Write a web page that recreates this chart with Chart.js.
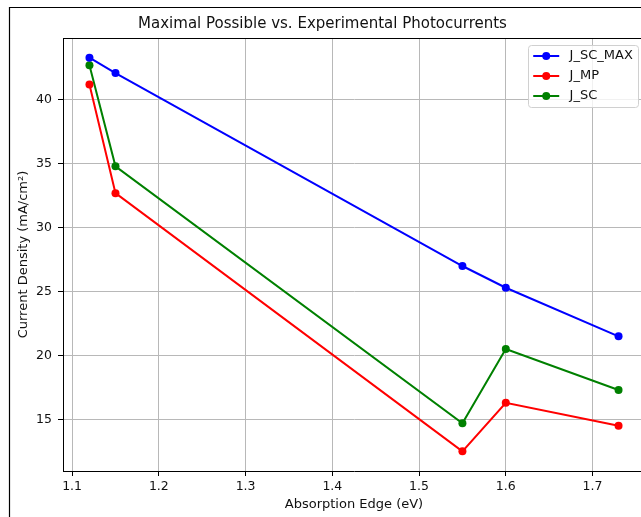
<!DOCTYPE html>
<html>
<head>
<meta charset="utf-8">
<script src="https://cdn.jsdelivr.net/npm/chart.js@4.4.1/dist/chart.umd.min.js"></script>
<style>
  html, body { margin: 0; padding: 0; background: #fff; overflow: hidden; }
  #wrap { width: 641px; height: 517px; overflow: hidden; }
  canvas { display: block; }
</style>
</head>
<body>
<div id="wrap"><canvas id="chart" width="660" height="517"></canvas></div>
<script>
// data
var absorptionEdge = [1.12, 1.15, 1.55, 1.60, 1.73];
var jScMax = [43.3, 42.1, 27.0, 25.3, 21.5];
var jMp = [41.2, 32.7, 12.5, 16.3, 14.5];
var jSc = [42.7, 34.8, 14.7, 20.5, 17.3];
var seriesNames = ['J_SC_MAX', 'J_MP', 'J_SC'];
var xTickValues = [1.1, 1.2, 1.3, 1.4, 1.5, 1.6, 1.7];
var yTickValues = [15, 20, 25, 30, 35, 40];

var FONT = "'DejaVu Sans', sans-serif";

function toPoints(ys){
	var pts = [];
	for(var i=0; i<absorptionEdge.length; i++){
		pts.push({x: absorptionEdge[i], y: ys[i]});
	}
	return pts;
}

// matplotlib style 5% margins
function paddedRange(values){
	var lo = Math.min.apply(null, values), hi = Math.max.apply(null, values);
	var m = (hi - lo) * 0.05;
	return {min: lo - m, max: hi + m};
}
var xRange = paddedRange(absorptionEdge);
var yRange = paddedRange(jScMax.concat(jMp, jSc));

function makeSet(label, ys, color){
	return {
		label: label,
		data: toPoints(ys),
		borderColor: color,
		backgroundColor: color,
		pointBackgroundColor: color,
		pointBorderColor: color,
		borderWidth: 2,
		pointRadius: 4,
		pointBorderWidth: 0,
		tension: 0,
		fill: false
	};
}

// frame, top/right spines and the legend box
var decorPlugin = {
	id: 'decor',
	afterDraw: function(chart){
		var ctx = chart.ctx, a = chart.chartArea;
		ctx.save();
		// outer frame of the figure
		ctx.strokeStyle = '#000';
		ctx.lineWidth = 1.2;
		ctx.beginPath();
		ctx.moveTo(9.5, 600);
		ctx.lineTo(9.5, 7.5);
		ctx.lineTo(700, 7.5);
		ctx.stroke();
		// top + right spines
		ctx.lineWidth = 1;
		ctx.beginPath();
		ctx.moveTo(a.left, Math.round(a.top) + 0.5);
		ctx.lineTo(a.right, Math.round(a.top) + 0.5);
		ctx.lineTo(a.right, a.bottom);
		ctx.stroke();

		// legend, upper right
		var fs = 13;
		ctx.font = fs + 'px ' + FONT;
		var textW = 0;
		chart.data.datasets.forEach(function(ds){
			textW = Math.max(textW, ctx.measureText(ds.label).width);
		});
		var pad = 0.4 * fs, handle = 2 * fs, gap = 0.8 * fs;
		var boxW = pad + handle + gap + textW + pad;
		var rowH = 20;
		var boxH = 11 * 2 + rowH * (chart.data.datasets.length - 1);
		var bx = a.right - 7 - boxW, by = a.top + 7;
		ctx.beginPath();
		ctx.roundRect(bx + 0.5, by + 0.5, boxW, boxH, 3);
		ctx.fillStyle = 'rgba(255,255,255,0.8)';
		ctx.fill();
		ctx.strokeStyle = '#d0d0d0';
		ctx.lineWidth = 1;
		ctx.stroke();
		chart.data.datasets.forEach(function(ds, i){
			var cy = by + 11 + i * rowH;
			var lx = bx + pad;
			ctx.strokeStyle = ds.borderColor;
			ctx.lineWidth = 2;
			ctx.beginPath();
			ctx.moveTo(lx, cy);
			ctx.lineTo(lx + handle, cy);
			ctx.stroke();
			ctx.fillStyle = ds.borderColor;
			ctx.beginPath();
			ctx.arc(lx + handle / 2, cy, 4, 0, Math.PI * 2);
			ctx.fill();
			ctx.fillStyle = '#111';
			ctx.textBaseline = 'middle';
			ctx.textAlign = 'left';
			ctx.fillText(ds.label, lx + handle + gap, cy);
		});
		ctx.restore();
	}
};

var ctx = document.getElementById('chart').getContext('2d');
var myChart = new Chart(ctx, {
	type: 'line',
	data: {
		datasets: [
			makeSet(seriesNames[0], jScMax, '#0000ff'),
			makeSet(seriesNames[1], jMp, '#ff0000'),
			makeSet(seriesNames[2], jSc, '#008000')
		]
	},
	options: {
		responsive: false,
		animation: false,
		devicePixelRatio: 1,
		layout: { padding: { left: 0, right: 15, top: 0, bottom: 0 } },
		plugins: {
			legend: { display: false },
			tooltip: { enabled: false },
			title: {
				display: true,
				text: 'Maximal Possible vs. Experimental Photocurrents',
				color: '#111',
				font: { family: FONT, size: 15, weight: 'normal', lineHeight: 1.2 },
				padding: { top: 15, bottom: 5 }
			}
		},
		scales: {
			x: {
				type: 'linear',
				min: xRange.min,
				max: xRange.max,
				afterBuildTicks: function(scale){
					scale.ticks = xTickValues.map(function(v){ return {value: v}; });
				},
				afterFit: function(scale){ scale.height = 46; },
				ticks: {
					autoSkip: false,
					maxRotation: 0,
					color: '#111',
					padding: 3.5,
					font: { family: FONT, size: 12.5 },
					callback: function(v){ return Number(v).toFixed(1); }
				},
				grid: { color: '#b8b8b8', lineWidth: 1, tickColor: '#000', tickLength: 5 },
				border: { color: '#000', width: 1 },
				title: {
					display: true,
					text: 'Absorption Edge (eV)',
					color: '#111',
					font: { family: FONT, size: 13, lineHeight: 1.2 },
					padding: { top: 0, bottom: 4.2 }
				}
			},
			y: {
				type: 'linear',
				min: yRange.min,
				max: yRange.max,
				afterBuildTicks: function(scale){
					scale.ticks = yTickValues.map(function(v){ return {value: v}; });
				},
				afterFit: function(scale){ scale.width = 63; },
				ticks: {
					color: '#111',
					padding: 6,
					font: { family: FONT, size: 12.5 },
					callback: function(v){ return String(v); }
				},
				grid: { color: '#b8b8b8', lineWidth: 1, tickColor: '#000', tickLength: 5 },
				border: { color: '#000', width: 1 },
				title: {
					display: true,
					text: 'Current Density (mA/cm²)',
					color: '#111',
					font: { family: FONT, size: 13, lineHeight: 1.2 },
					padding: { top: 15.5, bottom: 0 }
				}
			}
		}
	},
	plugins: [decorPlugin]
});
</script>
</body>
</html>
